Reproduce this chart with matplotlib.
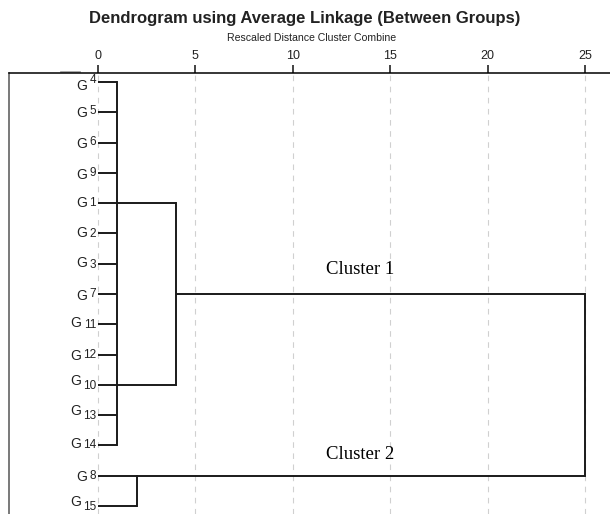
import matplotlib.pyplot as plt

# leaf order, top to bottom
leaves = ['4', '5', '6', '9', '1', '2', '3', '7', '11', '12', '10', '13', '14', '8', '15']
# rescaled distance where each leaf's line ends
leaf_end = [1, 1, 1, 1, 1, 1, 1, 1, 1, 1, 1, 1, 1, 25, 2]
# vertical joins: (first row, last row, distance)
joins = [(0, 12, 1), (4, 10, 4), (7, 13, 25), (13, 14, 2)]
# horizontal links between joins: (row, from, to)
links = [(4, 1, 4), (10, 1, 4), (7, 4, 25)]
ticks = [0, 5, 10, 15, 20, 25]

# small label nudges in pixels (G, number), up is positive
g_dy = [-4, -1, -1, -2, 0, 0, 1, -2, 1, -1, 4, 4, 1, -1, 4]
n_dy = [2, 1, 1, 0, 0, -1, -1, 0, -1, 0, -1, -1, 0, 0, -1]

plt.rcParams['font.family'] = ['Liberation Sans', 'DejaVu Sans']

fig = plt.figure(figsize=(6.1, 5.14), dpi=100)
ax = fig.add_axes([9 / 610, 0, 1 - 9 / 610, 1 - 73 / 514])

px = 25 / (585 - 98)
x_left = -(98 - 9) * px
x_right = x_left + (610 - 9) * px
row_h = (506 - 82) / 14
ax.set_xlim(x_left, x_right)
ax.set_ylim((514 - 82) / row_h, -(82 - 73) / row_h)

for t in ticks:
    ax.axvline(t, color='#d0d0d0', lw=0.8, ls=(0, (5, 5)), zorder=0)

lc = '#1a1a1a'
lw = 1.4
for i, e in enumerate(leaf_end):
    ax.plot([0, e], [i, i], color=lc, lw=lw, solid_capstyle='butt')
for a, b, x in joins:
    ax.plot([x, x], [a, b], color=lc, lw=lw, solid_capstyle='projecting')
for r, x0, x1 in links:
    ax.plot([x0, x1], [r, r], color=lc, lw=lw, solid_capstyle='butt')

pt = 72 / 100
for i, name in enumerate(leaves):
    nw = 6 if len(name) == 1 else 12
    ax.annotate(name, (0, i), xytext=(-2 * pt, n_dy[i] * pt), textcoords='offset points',
                ha='right', va='center', fontsize=8.5, color='#222222')
    ax.annotate('G', (0, i), xytext=(-(nw + 5) * pt, g_dy[i] * pt), textcoords='offset points',
                ha='right', va='center', fontsize=10, color='#222222')

ax.text(13.45, 6.2, 'Cluster 1', family='Liberation Serif', fontsize=13.5, ha='center', va='center')
ax.text(13.45, 12.3, 'Cluster 2', family='Liberation Serif', fontsize=13.5, ha='center', va='center')

ax.xaxis.tick_top()
ax.set_xticks(ticks)
ax.tick_params(axis='x', direction='out', length=6, width=1.2, labelsize=9, pad=2, colors='#222222')
ax.set_yticks([])
for s in ['right', 'bottom']:
    ax.spines[s].set_visible(False)
for s in ['left', 'top']:
    ax.spines[s].set_linewidth(1.1)
ax.spines['left'].set_color('#555555')
ax.plot([-1.9, -0.9], [-0.33, -0.33], color='#999999', lw=1.2, clip_on=False)

fig.text(0.5, 1 - 18 / 514, 'Dendrogram using Average Linkage (Between Groups)',
         ha='center', va='center', fontsize=12, fontweight='bold', color='#222222')
fig.text(312 / 610, 1 - 38 / 514, 'Rescaled Distance Cluster Combine',
         ha='center', va='center', fontsize=7.6, color='#222222')

fig.savefig('out.png', dpi=100)
